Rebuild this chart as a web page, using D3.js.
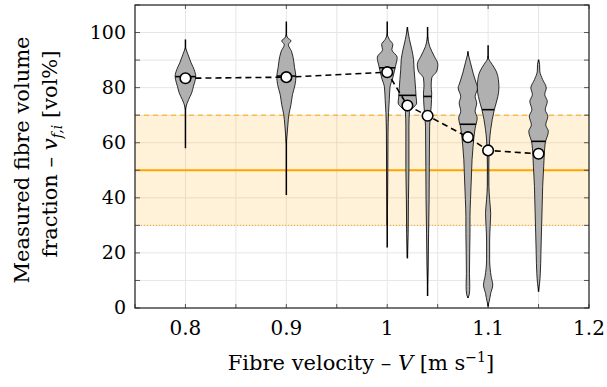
<!DOCTYPE html>
<html>
<head>
<meta charset="utf-8">
<script src="https://cdn.jsdelivr.net/npm/d3@7"></script>
<style>
  body { margin: 0; background: #fff; }
</style>
</head>
<body>
<svg id="chart" width="607" height="387" font-family="'DejaVu Serif', 'Liberation Serif', serif"></svg>
<script>
// fibre velocity of each violin [m/s]
var velocities = [0.8, 0.9, 1.0, 1.02, 1.04, 1.08, 1.1, 1.15];
var means   = [83.4, 83.8, 85.6, 73.5, 69.8, 62.0, 57.2, 56.0];
var medians = [84.0, 84.2, 87.2, 77.2, 76.8, 66.7, 72.0, 60.5];
var mins    = [58, 41, 22, 18, 4.4, 3.6, 0.5, 5.9];
var maxs    = [97.5, 104, 104, 102, 102, 93.2, 95.4, 90.2];

// density profiles [vol%, relative density]
var densities = [
  [[94.5,0],[92,0.25],[89,0.55],[86.5,0.85],[84.2,1.0],[82,0.9],[80.5,0.78],[78,0.6],[75.6,0.3],[73,0.05],[72,0]],
  [[99.3,0],[98,0.15],[97,0.45],[95.6,0.2],[93.2,0.5],[89.6,0.72],[87.2,0.8],[84.1,0.93],[81.1,0.85],[77.5,0.6],[73.8,0.45],[70.2,0.25],[66.5,0.15],[62,0.05],[60,0]],
  [[99.3,0],[97.5,0.2],[95.6,0.55],[93.8,0.45],[91,0.97],[87.7,0.8],[86,0.7],[83,0.5],[80.5,0.28],[75.6,0.2],[71,0.13],[63.6,0.08],[50,0.06],[40,0.04],[30,0]],
  [[101.5,0],[97.5,0.2],[93.8,0.43],[90.2,0.6],[86.5,0.65],[82.9,0.73],[79.3,0.8],[76.5,0.85],[74.4,0.9],[72.5,0.5],[71.4,0.2],[66,0.15],[51.4,0.15],[39.3,0.1],[27,0.07],[18.5,0]],
  [[98.7,0],[95,0.2],[91.4,0.65],[88.4,1.0],[86,0.9],[83.5,0.4],[80.5,0.35],[78,0.4],[73.2,0.35],[66,0.2],[51.4,0.17],[39.3,0.15],[27,0.1],[15,0.05],[9,0]],
  [[92.6,0],[89,0.25],[85.3,0.5],[81.7,0.8],[79.9,0.95],[76.8,0.7],[74.4,0.85],[71.4,0.7],[69,0.9],[65.3,0.7],[58.7,0.5],[53.8,0.4],[49,0.35],[44,0.3],[39.3,0.25],[33.2,0.2],[27,0.2],[20,0.17],[12.6,0.15],[7.8,0.18],[4.8,0.12],[3.8,0]],
  [[91.4,0],[90.5,0.05],[88.4,0.4],[86,0.78],[82.9,1.0],[79.9,1.05],[76.8,0.95],[72,0.6],[68.4,0.4],[64.7,0.25],[61,0.15],[51.4,0.07],[44.1,0.08],[39.3,0.15],[34.4,0.25],[29.6,0.2],[24.7,0.15],[17.5,0.15],[11.4,0.3],[8.4,0.45],[5.3,0.25],[2.3,0.1],[1,0]],
  [[89.8,0],[88.4,0.1],[86,0.12],[82.9,0.4],[79.9,0.75],[77.5,0.6],[75,0.85],[72,0.65],[69.6,0.9],[66.5,0.7],[64.1,0.95],[59.9,0.65],[51.4,0.5],[44.1,0.4],[36.8,0.35],[27.2,0.28],[19.9,0.23],[12.6,0.17],[9,0.1],[6.5,0]]
];

var xTicks = [0.8, 0.9, 1.0, 1.1, 1.2];
var xTickLabels = ["0.8", "0.9", "1", "1.1", "1.2"];
var yTicks = [0, 20, 40, 60, 80, 100];
var band = [30, 50, 70]; // lower, target, upper

var margin = {left: 135, right: 18, top: 5, bottom: 79};
var width = 607 - margin.left - margin.right;
var height = 387 - margin.top - margin.bottom;

var svg = d3.select("#chart");
var g = svg.append("g").attr("transform", "translate(" + margin.left + "," + margin.top + ")");

var x = d3.scaleLinear().domain([0.75, 1.2]).range([0, width]);
var y = d3.scaleLinear().domain([0, 110]).range([height, 0]);
var w = d3.scaleLinear().domain([0, 1]).range([0, 0.0102]);

// grid
g.append("g").selectAll("line").data(d3.range(0.75, 1.2001, 0.05)).enter().append("line")
  .attr("x1", function(d){ return x(d); }).attr("x2", function(d){ return x(d); })
  .attr("y1", 0).attr("y2", height)
  .attr("stroke", "#e6e6e6").attr("stroke-width", 1);
g.append("g").selectAll("line").data(d3.range(0, 111, 10)).enter().append("line")
  .attr("y1", function(d){ return y(d); }).attr("y2", function(d){ return y(d); })
  .attr("x1", 0).attr("x2", width)
  .attr("stroke", "#e6e6e6").attr("stroke-width", 1);

// tolerance band
g.append("rect")
  .attr("x", 0).attr("width", width)
  .attr("y", y(band[2])).attr("height", y(band[0]) - y(band[2]))
  .attr("fill", "#ffa500").attr("fill-opacity", 0.15);
g.append("line").attr("x1", 0).attr("x2", width).attr("y1", y(band[2])).attr("y2", y(band[2]))
  .attr("stroke", "#ffa500").attr("stroke-width", 1).attr("stroke-dasharray", "5,4");
g.append("line").attr("x1", 0).attr("x2", width).attr("y1", y(band[0])).attr("y2", y(band[0]))
  .attr("stroke", "#ffa500").attr("stroke-width", 1).attr("stroke-dasharray", "1,2");
g.append("line").attr("x1", 0).attr("x2", width).attr("y1", y(band[1])).attr("y2", y(band[1]))
  .attr("stroke", "#ffa500").attr("stroke-width", 2);

// ticks (inward)
var tickCol = "#555";
g.append("g").selectAll("line").data(d3.range(0.75, 1.2001, 0.05)).enter().append("line")
  .attr("x1", function(d){ return x(d); }).attr("x2", function(d){ return x(d); })
  .attr("y1", height).attr("y2", height - 4).attr("stroke", tickCol);
g.append("g").selectAll("line").data(xTicks).enter().append("line")
  .attr("x1", function(d){ return x(d); }).attr("x2", function(d){ return x(d); })
  .attr("y1", 0).attr("y2", 4).attr("stroke", tickCol);
g.append("g").selectAll("line").data(d3.range(0, 111, 10)).enter().append("line")
  .attr("y1", function(d){ return y(d); }).attr("y2", function(d){ return y(d); })
  .attr("x1", 0).attr("x2", 5).attr("stroke", tickCol);
g.append("g").selectAll("line").data(d3.range(0, 111, 10)).enter().append("line")
  .attr("y1", function(d){ return y(d); }).attr("y2", function(d){ return y(d); })
  .attr("x1", width).attr("x2", width - 5).attr("stroke", tickCol);

// violins
var violins = velocities.map(function(v, i){
  return {v: v, mean: means[i], median: medians[i], min: mins[i], max: maxs[i], dens: densities[i]};
});

function halfAt(dens, val){
  for (var k = 0; k < dens.length - 1; k++){
    var a = dens[k], b = dens[k+1];
    if (val <= a[0] && val >= b[0]) {
      var t = (a[0] - val) / (a[0] - b[0]);
      return a[1] + t * (b[1] - a[1]);
    }
  }
  return 0;
}

var gV = g.selectAll(".violin").data(violins).enter().append("g").attr("class", "violin");

gV.append("line")
  .attr("x1", function(d){ return x(d.v); }).attr("x2", function(d){ return x(d.v); })
  .attr("y1", function(d){ return y(d.max); }).attr("y2", function(d){ return y(d.min); })
  .attr("stroke", "#000").attr("stroke-width", 1.5);

gV.append("path")
  .attr("d", function(d){
    return d3.area()
      .y(function(p){ return y(p[0]); })
      .x0(function(p){ return x(d.v - w(p[1])); })
      .x1(function(p){ return x(d.v + w(p[1])); })
      .curve(d3.curveMonotoneY)(d.dens.slice().reverse());
  })
  .attr("fill", "#b0b0b0").attr("stroke", "#000").attr("stroke-width", 0.8);

gV.append("line")
  .attr("x1", function(d){ return x(d.v - w(halfAt(d.dens, d.median))); })
  .attr("x2", function(d){ return x(d.v + w(halfAt(d.dens, d.median))); })
  .attr("y1", function(d){ return y(d.median); }).attr("y2", function(d){ return y(d.median); })
  .attr("stroke", "#000").attr("stroke-width", 1.6);

// mean line + markers
g.append("path")
  .datum(violins)
  .attr("d", d3.line().x(function(d){ return x(d.v); }).y(function(d){ return y(d.mean); }))
  .attr("fill", "none").attr("stroke", "#000").attr("stroke-width", 1.6).attr("stroke-dasharray", "6,4");

g.selectAll(".mean").data(violins).enter().append("circle")
  .attr("class", "mean")
  .attr("cx", function(d){ return x(d.v); }).attr("cy", function(d){ return y(d.mean); })
  .attr("r", 5.3).attr("fill", "#fff").attr("stroke", "#000").attr("stroke-width", 1.6);

// frame
g.append("rect").attr("width", width).attr("height", height)
  .attr("fill", "none").attr("stroke", "#222").attr("stroke-width", 1.2);

// tick labels
g.selectAll(".xl").data(xTicks).enter().append("text")
  .attr("x", function(d){ return x(d); }).attr("y", height + 27)
  .attr("text-anchor", "middle").attr("font-size", 20)
  .text(function(d, i){ return xTickLabels[i]; });
g.selectAll(".yl").data(yTicks).enter().append("text")
  .attr("x", -9).attr("y", function(d){ return y(d) + 6; })
  .attr("text-anchor", "end").attr("font-size", 19)
  .text(function(d){ return d; });

// axis labels
var xl = svg.append("text").attr("x", 361).attr("y", 370).attr("text-anchor", "middle").attr("font-size", 21);
xl.append("tspan").text("Fibre velocity \u2013 ");
xl.append("tspan").attr("font-style", "italic").text("V");
xl.append("tspan").text(" [m s");
xl.append("tspan").attr("dy", -8).attr("font-size", 14).text("\u22121");
xl.append("tspan").attr("dy", 8).text("]");

var yl = svg.append("g").attr("transform", "translate(29,160) rotate(-90)");
yl.append("text").attr("text-anchor", "middle").attr("font-size", 21).text("Measured fibre volume");
var yl2 = yl.append("text").attr("y", 28).attr("x", 6).attr("text-anchor", "middle").attr("font-size", 21);
yl2.append("tspan").text("fraction \u2013 ");
yl2.append("tspan").attr("font-style", "italic").text("v");
yl2.append("tspan").attr("dy", 5).attr("font-size", 14).attr("font-style", "italic").text("f,i");
yl2.append("tspan").attr("dy", -5).text(" [vol%]");
</script>
</body>
</html>
